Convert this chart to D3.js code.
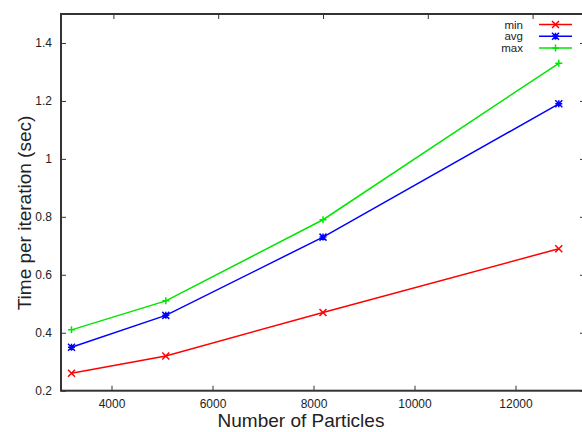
<!DOCTYPE html>
<html>
<head>
<meta charset="utf-8">
<script src="https://cdn.jsdelivr.net/npm/d3@7"></script>
<style>
body { margin: 0; background: #fff; }
text { font-family: "Liberation Sans", Arial, sans-serif; fill: #222; }
</style>
</head>
<body>
<svg id="chart" width="582" height="432"></svg>
<script>
var particles = [3200, 5000, 8000, 12500];
var minTime = [0.26, 0.32, 0.47, 0.69];
var avgTime = [0.35, 0.46, 0.73, 1.19];
var maxTime = [0.41, 0.51, 0.79, 1.33];
var xTicks = [4000, 6000, 8000, 10000, 12000];
var yTicks = [0.2, 0.4, 0.6, 0.8, 1, 1.2, 1.4];

var series = [
	{name: "min", values: minTime, color: "#ff0000", marker: "x"},
	{name: "avg", values: avgTime, color: "#0000ff", marker: "star"},
	{name: "max", values: maxTime, color: "#00e600", marker: "plus"}
];

var svg = d3.select("#chart"),
	pLeft = 61, pRight = 585, pTop = 14, pBottom = 390.7;

var x = d3.scaleLinear().domain([3000, 13000]).range([pLeft, pRight]);
// bottom tick labels in the picture sit on a slightly compressed scale
var xb = d3.scaleLinear().domain([3000, 13000]).range([pLeft, pLeft + 505]);
var y = d3.scaleLinear().domain([0.2, 1.5]).range([pBottom, pTop]);

// axes
var ax = "#333";
svg.append("g")
	.attr("transform", `translate(0,${pBottom})`)
	.call(d3.axisBottom(xb).tickValues(xTicks).tickSize(-5).tickPadding(9).tickFormat(d3.format("d")))
	.call(g => g.select(".domain").remove());
svg.append("g")
	.attr("transform", `translate(0,${pTop})`)
	.call(d3.axisTop(x).tickValues(xTicks).tickSize(-5).tickFormat(""))
	.call(g => g.select(".domain").remove());
svg.append("g")
	.attr("transform", `translate(${pLeft},0)`)
	.call(d3.axisLeft(y).tickValues(yTicks).tickSize(-5).tickPadding(9).tickFormat(d => String(+d.toFixed(1))))
	.call(g => g.select(".domain").remove());
svg.append("g")
	.attr("transform", `translate(${pRight},0)`)
	.call(d3.axisRight(y).tickValues(yTicks).tickSize(-5).tickFormat(""))
	.call(g => g.select(".domain").remove());

svg.selectAll(".tick line").attr("stroke", ax).attr("stroke-width", 1);
svg.selectAll(".tick text").attr("font-size", 12).attr("fill", "#222");

svg.append("rect")
	.attr("x", pLeft).attr("y", pTop)
	.attr("width", pRight - pLeft).attr("height", pBottom - pTop)
	.attr("fill", "none").attr("stroke", ax).attr("stroke-width", 2);

// markers
function marker(g, type, cx, cy, color) {
	var s = 3.5;
	var p = "";
	if (type == "x" || type == "star")
		p += `M${cx-s},${cy-s}L${cx+s},${cy+s}M${cx-s},${cy+s}L${cx+s},${cy-s}`;
	if (type == "plus" || type == "star")
		p += `M${cx-s},${cy}L${cx+s},${cy}M${cx},${cy-s}L${cx},${cy+s}`;
	g.append("path").attr("d", p).attr("stroke", color).attr("stroke-width", 1.5).attr("fill", "none");
}

var line = d3.line().x((d, i) => x(particles[i])).y(d => y(d));

series.forEach(function(s) {
	var g = svg.append("g");
	g.append("path")
		.attr("d", line(s.values))
		.attr("fill", "none")
		.attr("stroke", s.color)
		.attr("stroke-width", 1.5);
	s.values.forEach((v, i) => marker(g, s.marker, x(particles[i]), y(v), s.color));
});

// legend
series.forEach(function(s, i) {
	var ly = 24.5 + i * 11.7;
	svg.append("text")
		.attr("x", 523).attr("y", ly + 4)
		.attr("text-anchor", "end")
		.attr("font-size", 11.5)
		.text(s.name);
	var g = svg.append("g");
	g.append("line")
		.attr("x1", 539).attr("x2", 572)
		.attr("y1", ly).attr("y2", ly)
		.attr("stroke", s.color).attr("stroke-width", 1.5);
	marker(g, s.marker, 555.5, ly, s.color);
});

// axis titles
svg.append("text")
	.attr("x", 301).attr("y", 427)
	.attr("text-anchor", "middle")
	.attr("font-size", 19)
	.text("Number of Particles");
svg.append("text")
	.attr("transform", "translate(31,213) rotate(-90)")
	.attr("text-anchor", "middle")
	.attr("font-size", 19)
	.text("Time per iteration (sec)");
</script>
</body>
</html>
